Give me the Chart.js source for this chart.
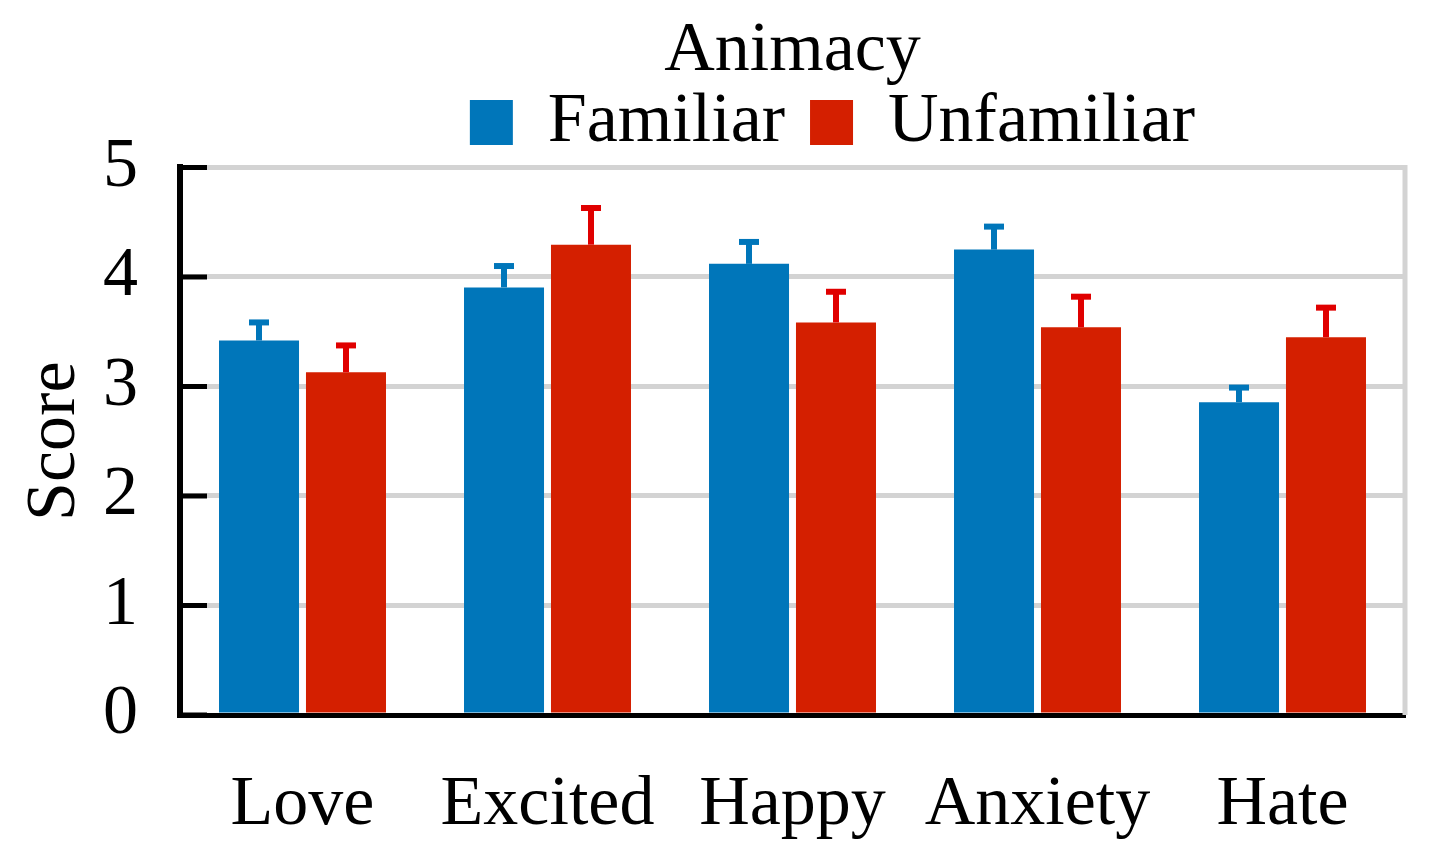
<!DOCTYPE html>
<html><head><meta charset="utf-8">
<script src="https://cdn.jsdelivr.net/npm/chart.js@4"></script>
<style>html,body{margin:0;padding:0;background:#fff}#wrap{width:1437px;height:866px;position:relative}</style>
</head><body><div id="wrap"><canvas id="c"></canvas></div>
<script>
const categories = ['Love', 'Excited', 'Happy', 'Anxiety', 'Hate'];
const seriesNames = ['Familiar', 'Unfamiliar'];
const familiar = [3.42, 3.905, 4.12, 4.25, 2.857];
const familiarUpper = [3.585, 4.10, 4.32, 4.46, 2.99];
const unfamiliar = [3.13, 4.295, 3.585, 3.54, 3.45];
const unfamiliarUpper = [3.375, 4.63, 3.865, 3.82, 3.72];
const yTicks = [0, 1, 2, 3, 4, 5];

const FONT = 'Liberation Serif';
const BLUE = '#0076BA', RED = '#D41F00';
const ERR_COLORS = ['#0076BA', '#E00000'];
const GRID = '#D3D3D3';

Chart.defaults.font.family = FONT;
Chart.defaults.color = '#000';

const frameAndTicks = {
  id: 'frameAndTicks',
  beforeDatasetsDraw(chart) {
    const {ctx, chartArea: a, scales: {y}} = chart;
    ctx.save();
    ctx.strokeStyle = GRID; ctx.lineWidth = 5;
    ctx.beginPath(); ctx.moveTo(a.right, a.top - 2.5); ctx.lineTo(a.right, a.bottom); ctx.stroke();
    ctx.strokeStyle = '#000'; ctx.lineWidth = 5;
    yTicks.forEach(v => {
      const py = y.getPixelForValue(v);
      ctx.beginPath(); ctx.moveTo(a.left, py); ctx.lineTo(a.left + 27, py); ctx.stroke();
    });
    ctx.restore();
  }
};

const errorBars = {
  id: 'errorBars',
  afterDatasetsDraw(chart) {
    const {ctx, scales: {y}} = chart;
    const uppers = [familiarUpper, unfamiliarUpper];
    ctx.save();
    chart.data.datasets.forEach((ds, di) => {
      const meta = chart.getDatasetMeta(di);
      meta.data.forEach((bar, i) => {
        const yTop = y.getPixelForValue(uppers[di][i]);
        const yBase = y.getPixelForValue(ds.data[i]);
        ctx.strokeStyle = ERR_COLORS[di];
        ctx.lineWidth = 6;
        ctx.beginPath(); ctx.moveTo(bar.x, yBase); ctx.lineTo(bar.x, yTop); ctx.stroke();
        ctx.beginPath(); ctx.moveTo(bar.x - 10, yTop); ctx.lineTo(bar.x + 10, yTop); ctx.stroke();
      });
    });
    ctx.restore();
  }
};

const legendShift = {
  id: 'legendShift',
  afterLayout(chart) {
    if (chart.legend) { chart.legend.left += 40; chart.legend.right += 40; }
  }
};

new Chart(document.getElementById('c'), {
  type: 'bar',
  data: {
    labels: categories,
    datasets: [
      { label: seriesNames[0], data: familiar, backgroundColor: BLUE, borderWidth: 0, barPercentage: 0.92, categoryPercentage: 0.71 },
      { label: seriesNames[1], data: unfamiliar, backgroundColor: RED, borderWidth: 0, barPercentage: 0.92, categoryPercentage: 0.71 }
    ]
  },
  options: {
    responsive: true,
    maintainAspectRatio: false,
    animation: false,
    devicePixelRatio: 1,
    layout: { padding: { left: 0, right: 32, top: 0, bottom: 23.5 } },
    plugins: {
      tooltip: { enabled: false },
      title: {
        display: true, text: 'Animacy', fullSize: false,
        font: { family: FONT, size: 70, weight: 'normal', lineHeight: 0.314 },
        color: '#000',
        padding: { top: 40.5, bottom: 0 }
      },
      legend: {
        display: true, position: 'top', fullSize: false,
        labels: {
          font: { family: FONT, size: 70 },
          color: '#000',
          boxWidth: 43, boxHeight: 45, padding: 25
        }
      }
    },
    scales: {
      x: {
        grid: { display: false, drawTicks: false },
        border: { display: true, color: '#000', width: 5 },
        ticks: { font: { family: FONT, size: 70 }, color: '#000', padding: 48.5, maxRotation: 0, autoSkip: false },
        afterFit(scale) { scale.height = 127.5; }
      },
      y: {
        min: 0, max: 5,
        afterBuildTicks(scale) { scale.ticks = yTicks.map(v => ({ value: v })); },
        afterFit(scale) { scale.width = 180; },
        grid: {
          color: ctx => (ctx.tick && ctx.tick.value === 0) ? 'rgba(0,0,0,0)' : GRID,
          lineWidth: 5, drawTicks: false
        },
        border: { display: true, color: '#000', width: 6 },
        ticks: { font: { family: FONT, size: 70 }, color: '#000', padding: 42 },
        title: {
          display: true, text: 'Score', color: '#000',
          font: { family: FONT, size: 70, lineHeight: 1.0 },
          padding: { top: 20.5, bottom: 9.5 }
        }
      }
    }
  },
  plugins: [frameAndTicks, errorBars, legendShift]
});
</script>
</body></html>
